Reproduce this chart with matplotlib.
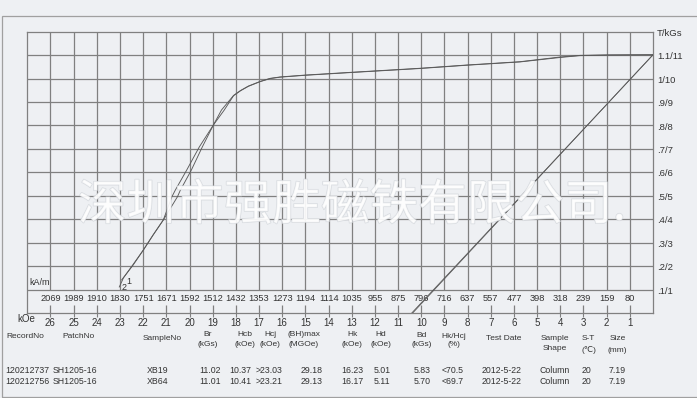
import matplotlib
matplotlib.use('Agg')
import matplotlib.pyplot as plt
from matplotlib.patches import Rectangle
import matplotlib.patheffects as pe
from matplotlib import font_manager

plt.rcParams['font.family'] = ['Liberation Sans', 'DejaVu Sans']

# ---------------- data ----------------
koe_ticks = list(range(26, 0, -1))
kam_labels = ['2069', '1989', '1910', '1830', '1751', '1671', '1592', '1512', '1432',
              '1353', '1273', '1194', '1114', '1035', '955', '875', '796', '716',
              '637', '557', '477', '398', '318', '239', '159', '80']
b_ticks = list(range(1, 13))
b_labels = ['.1/1', '.2/2', '.3/3', '.4/4', '.5/5', '.6/6', '.7/7', '.8/8', '.9/9',
            '1/10', '1.1/11', 'T/kGs']

# intrinsic curves (H in kOe, J in kGs)
j1_h = [0, 1.98, 3.15, 4.01, 5.74, 8.02, 10.05, 12.99, 15.01, 16.09, 16.52, 16.95, 17.46,
        17.80, 18.10, 18.62, 18.97, 19.45, 19.92, 20.40, 20.52, 21.13, 21.57, 21.99,
        22.43, 22.78, 22.93]
j1_b = [11.02, 11.01, 10.99, 10.92, 10.72, 10.58, 10.44, 10.27, 10.15, 10.07, 10.01, 9.88,
        9.68, 9.49, 9.28, 8.66, 8.02, 7.08, 6.10, 5.23, 4.96, 3.97, 3.33, 2.69,
        2.05, 1.60, 1.41]
j2_h = [0, 1.98, 3.15, 4.01, 5.74, 8.02, 10.05, 12.99, 15.01, 16.09, 16.52, 16.95, 17.46,
        17.80, 18.10, 18.50, 18.97, 19.58, 20.12, 20.62, 20.76, 21.13, 21.57, 21.99,
        22.45, 22.85, 23.03]
j2_b = [11.01, 11.00, 10.98, 10.90, 10.71, 10.57, 10.43, 10.26, 10.14, 10.06, 10.00, 9.87,
        9.67, 9.48, 9.27, 8.66, 8.02, 7.08, 6.10, 5.23, 4.96, 3.97, 3.33, 2.69,
        2.05, 1.50, 1.11]

# normal curves (Br -> Hcb)
n1_h = [0, 10.37]
n1_b = [11.02, 0]
n2_h = [0, 10.41]
n2_b = [11.01, 0]

# table
header1 = ['RecordNo', 'PatchNo', 'SampleNo', 'Br', 'Hcb', 'Hcj', '(BH)max', 'Hk', 'Hd',
           'Bd', 'Hk/Hcj', 'Test Date', 'Sample', 'S-T', 'Size']
header2 = ['', '', '', '(kGs)', '(kOe)', '(kOe)', '(MGOe)', '(kOe)', '(kOe)', '(kGs)',
           '(%)', '', 'Shape', '(℃)', '(mm)']
record_no = ['120212737', '120212756']
patch_no = ['SH1205-16', 'SH1205-16']
sample_no = ['XB19', 'XB64']
br = ['11.02', '11.01']
hcb = ['10.37', '10.41']
hcj = ['>23.03', '>23.21']
bhmax = ['29.18', '29.13']
hk = ['16.23', '16.17']
hd = ['5.01', '5.11']
bd = ['5.83', '5.70']
hk_hcj = ['<70.5', '<69.7']
test_date = ['2012-5-22', '2012-5-22']
shape = ['Column', 'Column']
st = ['20', '20']
size = ['7.19', '7.19']

# ---------------- layout ----------------
W, H = 697, 398
BG = '#eef0f3'
TXT = '#333333'
GRID = '#808080'
CURVE = '#5a5a5a'

names = {f.name for f in font_manager.fontManager.ttflist}
if 'Liberation Sans Narrow' in names:
    TABLE_FONT = ['Liberation Sans Narrow', 'DejaVu Sans', 'Noto Sans CJK SC']
    TABLE_SIZE = 6.9
else:
    TABLE_FONT = ['Liberation Sans', 'DejaVu Sans', 'Noto Sans CJK SC']
    TABLE_SIZE = 6.0


def fx(x):
    return x / W


def fy(y):
    return 1 - y / H


fig = plt.figure(figsize=(W / 100, H / 100), dpi=100, facecolor=BG)

# outer frame
fig.add_artist(Rectangle((fx(2), fy(397)), fx(720) - fx(2), fy(16) - fy(397),
                         fill=False, ec='#a0a0a0', lw=0.9, transform=fig.transFigure))

ax = fig.add_axes([fx(27.3), fy(313), fx(653) - fx(27.3), fy(31.7) - fy(313)])
ax.set_facecolor(BG)
ax.set_xlim(27, 0)
ax.set_ylim(0, 12)
for s in ax.spines.values():
    s.set_color(GRID)
    s.set_linewidth(0.9)

# grid
ax.vlines(koe_ticks, 1, 12, colors=GRID, lw=0.9, zorder=1)
ax.hlines(b_ticks[:-1], 27, 0, colors=GRID, lw=0.9, zorder=1)
ax.vlines(koe_ticks, 0, 0.34, colors=GRID, lw=0.9, zorder=1)

# x ticks (kOe)
ax.set_xticks(koe_ticks)
ax.set_xticklabels([str(k) for k in koe_ticks])
ax.tick_params(axis='x', direction='out', length=3, width=0.8, color=GRID, pad=0.5,
               labelsize=7, labelcolor=TXT)
ax.set_yticks([])

# right-hand B labels
for b, lab in zip(b_ticks, b_labels):
    ax.text(1.0065, b - 0.07, lab, transform=ax.get_yaxis_transform(), ha='left',
            va='center', fontsize=6.8, color=TXT)

# kA/m labels
for k, lab in zip(koe_ticks, kam_labels):
    ax.text(k, 0.6, lab, ha='center', va='center', fontsize=6.7, color=TXT)
ax.text(26.9, 1.3, 'kA/m', ha='left', va='center', fontsize=6.5, color=TXT)

# curves
ax.plot(j1_h, j1_b, color=CURVE, lw=0.65, zorder=3)
ax.plot(j2_h, j2_b, color=CURVE, lw=0.65, zorder=3)
ax.plot(n1_h, n1_b, color=CURVE, lw=0.6, zorder=3)
ax.plot(n2_h, n2_b, color=CURVE, lw=0.6, zorder=3)
ax.text(22.6, 1.35, '1', ha='center', va='center', fontsize=6.5, color=TXT)
ax.text(22.82, 1.07, '2', ha='center', va='center', fontsize=6.5, color=TXT)

fig.text(fx(26.5), fy(319.5), 'kOe', ha='center', va='center', fontsize=7, color=TXT)

# watermark
fig.text(fx(352), fy(206), '深圳市强胜磁铁有限公司.', ha='center', va='center',
         fontsize=35, family=['Noto Sans CJK SC', 'DejaVu Sans'], color='white',
         alpha=0.72, zorder=10,
         path_effects=[pe.withStroke(linewidth=1.0, foreground='#cfd3d8')])

# table headers
h_x = [6, 62, 143, 207.5, 245, 270, 303.5, 352, 380.5, 422, 453.5, 503.5, 554.5, 588.5, 617.5]
h_ha = ['left', 'left', 'left'] + ['center'] * 12
h1_y = [336, 336, 339, 335, 335, 335, 335, 335, 335, 335.5, 336, 338, 339, 339, 339]
h2_y = [345, 345, 345, 344, 344, 344, 344, 344, 344, 344, 345, 345, 348.5, 350.5, 350.5]
for i in range(len(header1)):
    fig.text(fx(h_x[i]), fy(h1_y[i]), header1[i], ha=h_ha[i], va='center',
             fontsize=TABLE_SIZE, family=TABLE_FONT, color=TXT)
    if header2[i]:
        fig.text(fx(h_x[i]), fy(h2_y[i]), header2[i], ha=h_ha[i], va='center',
                 fontsize=TABLE_SIZE, family=TABLE_FONT, color=TXT)

cols = [record_no, patch_no, sample_no, br, hcb, hcj, bhmax, hk, hd, bd, hk_hcj,
        test_date, shape, st, size]
c_x = [5.5, 52.5, 146.5, 210, 240.5, 269.5, 311.5, 352, 382, 422, 453, 502, 555, 586.5, 617]
c_ha = ['left', 'left', 'left'] + ['center'] * 12
row_y = [370.5, 381]
for j, col in enumerate(cols):
    for r in range(2):
        fig.text(fx(c_x[j]), fy(row_y[r]), col[r], ha=c_ha[j], va='center',
                 fontsize=TABLE_SIZE + 0.3, family=TABLE_FONT, color=TXT)

fig.savefig('out.png', dpi=100, facecolor=BG)
